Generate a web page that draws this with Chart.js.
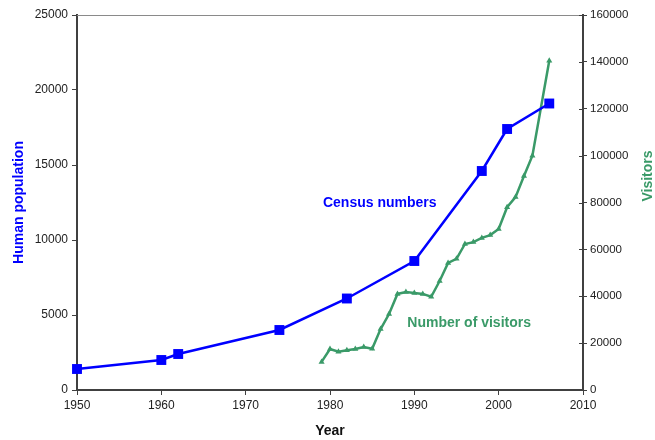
<!DOCTYPE html>
<html><head><meta charset="utf-8">
<script src="https://cdn.jsdelivr.net/npm/chart.js@4/dist/chart.umd.min.js"></script>
<style>html,body{margin:0;padding:0;background:#fff}#wrap{width:655px;height:440px}</style>
</head><body><div id="wrap"><canvas id="c" width="655" height="440"></canvas></div>
<script>
const censusYears = [1950, 1960, 1962, 1974, 1982, 1990, 1998, 2001, 2006];
const censusValues = [1400, 2000, 2400, 4000, 6100, 8600, 14600, 17400, 19100];
const visitorYears = [1979,1980,1981,1982,1983,1984,1985,1986,1987,1988,1989,1990,1991,1992,1993,1994,1995,1996,1997,1998,1999,2000,2001,2002,2003,2004,2006];
const visitorValues = [12000,17500,16300,17000,17500,18300,17600,26000,32400,41000,41800,41400,41000,39800,46500,54200,56000,62300,63100,64900,66100,68700,78000,82300,91300,100000,140500];
const xTicks = [1950,1960,1970,1980,1990,2000,2010];
const leftTicks = [0,5000,10000,15000,20000,25000];
const rightTicks = [0,20000,40000,60000,80000,100000,120000,140000,160000];

const BLUE = '#0000FF';
const GREEN = '#3A9A68';
const AXIS = '#404040';
const FONT = "'Liberation Sans', Arial, sans-serif";

const annot = {
  id: 'annot',
  afterDraw(chart) {
    const ctx = chart.ctx, x = chart.scales.x, y = chart.scales.y, y1 = chart.scales.y1, a = chart.chartArea;
    ctx.save();
    ctx.strokeStyle = '#8a8a8a'; ctx.lineWidth = 1;
    ctx.beginPath(); ctx.moveTo(a.left, a.top + 0.5); ctx.lineTo(a.right, a.top + 0.5); ctx.stroke();
    ctx.strokeStyle = AXIS; ctx.lineWidth = 1;
    rightTicks.forEach(v => { const py = Math.round(y1.getPixelForValue(v)) + 0.5; ctx.beginPath(); ctx.moveTo(a.right - 4, py); ctx.lineTo(a.right, py); ctx.stroke(); });
    ctx.font = 'bold 14px ' + FONT;
    ctx.textAlign = 'center'; ctx.textBaseline = 'middle';
    ctx.fillStyle = BLUE;
    ctx.fillText('Census numbers', x.getPixelForValue(1985.9), y.getPixelForValue(12450));
    ctx.fillStyle = GREEN;
    ctx.fillText('Number of visitors', x.getPixelForValue(1996.5), y1.getPixelForValue(28500));
    ctx.translate(648, 176); ctx.rotate(-Math.PI / 2);
    ctx.fillText('Visitors', 0, 0);
    ctx.restore();
  }
};

const plain = v => String(v);

new Chart(document.getElementById('c'), {
  type: 'line',
  data: {
    datasets: [
      { label: 'Census numbers', data: censusYears.map((yr, i) => ({x: yr, y: censusValues[i]})), yAxisID: 'y', clip: false,
        borderColor: BLUE, backgroundColor: BLUE, borderWidth: 2.5, pointStyle: 'rect', pointRadius: 7, pointBorderWidth: 0, tension: 0 },
      { label: 'Number of visitors', data: visitorYears.map((yr, i) => ({x: yr, y: visitorValues[i]})), yAxisID: 'y1', clip: false,
        borderColor: GREEN, backgroundColor: GREEN, borderWidth: 2.5, pointStyle: 'triangle', pointRadius: 3.5, pointBorderWidth: 0, tension: 0 }
    ]
  },
  options: {
    responsive: false, animation: false, devicePixelRatio: 1,
    layout: { padding: { left: 0, right: 0, top: 15, bottom: 0 } },
    plugins: { legend: { display: false }, tooltip: { enabled: false } },
    scales: {
      x: { type: 'linear', min: 1950, max: 2010,
        afterBuildTicks: s => { s.ticks = xTicks.map(v => ({value: v})); },
        afterFit: s => { s.height = 50; },
        grid: { display: true, drawOnChartArea: false, drawTicks: true, tickLength: 5, color: AXIS },
        border: { display: true, color: AXIS, width: 2 },
        ticks: { color: '#222', font: { family: FONT, size: 12 }, padding: 3, maxRotation: 0, callback: plain },
        title: { display: true, text: 'Year', color: '#111', font: { family: FONT, size: 14, weight: 'bold' }, padding: { top: 8, bottom: 0 } } },
      y: { position: 'left', min: 0, max: 25000,
        afterBuildTicks: s => { s.ticks = leftTicks.map(v => ({value: v})); },
        afterFit: s => { s.width = 77; },
        grid: { display: true, drawOnChartArea: false, drawTicks: true, tickLength: 5, color: AXIS },
        border: { display: true, color: AXIS, width: 2 },
        ticks: { color: '#222', font: { family: FONT, size: 12 }, padding: 4, callback: plain },
        title: { display: true, text: 'Human population', color: BLUE, font: { family: FONT, size: 14, weight: 'bold' }, padding: { top: 11, bottom: 0 } } },
      y1: { position: 'right', min: 0, max: 160000,
        afterBuildTicks: s => { s.ticks = rightTicks.map(v => ({value: v})); },
        afterFit: s => { s.width = 72; },
        grid: { display: true, drawOnChartArea: false, drawTicks: true, tickLength: 4, color: AXIS },
        border: { display: true, color: AXIS, width: 2 },
        ticks: { color: '#222', font: { family: FONT, size: 11.5 }, padding: 3, callback: plain } }
    }
  },
  plugins: [annot]
});
</script></body></html>
